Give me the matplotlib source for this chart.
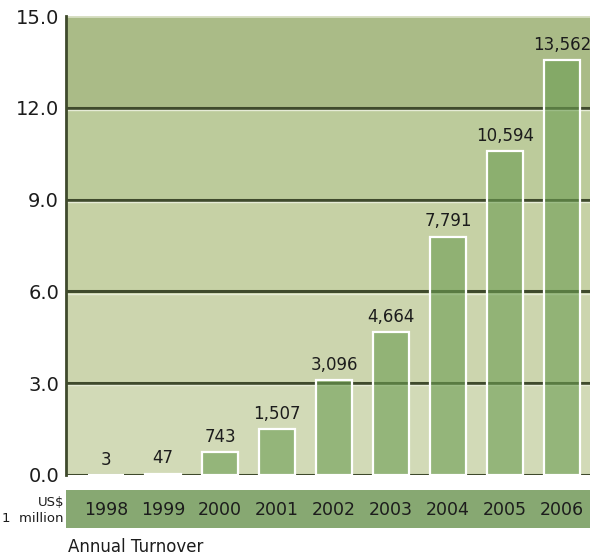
import numpy as np
import matplotlib.pyplot as plt

# annual turnover, US$ million
years = ['1998', '1999', '2000', '2001', '2002', '2003', '2004', '2005', '2006']
turnover = [3, 47, 743, 1507, 3096, 4664, 7791, 10594, 13562]
labels = ['3', '47', '743', '1,507', '3,096', '4,664', '7,791', '10,594', '13,562']
yticks = [0, 3, 6, 9, 12, 15]

# band colours from bottom to top
band_colors = ['#d2dab7', '#ccd5ae', '#c6d1a5', '#bccb9b', '#aabb87']

x = np.arange(len(years))
vals = np.array(turnover) / 1000.0

fig = plt.figure(figsize=(5.9, 5.57), dpi=100)
ax = fig.add_axes([66 / 590, 1 - 475 / 557, 524 / 590, 459 / 557])

for i, c in enumerate(band_colors):
    ax.axhspan(yticks[i], yticks[i + 1], color=c, zorder=0, lw=0)

# grid lines: dark line with a light highlight just under it
for t in yticks[:-1]:
    ax.axhline(t, color='#3f4a2c', lw=2.2, zorder=1)
    ax.axhline(t - 0.07, color='#e6ebd6', lw=1.0, zorder=1)
ax.axhline(15, color='#d8dfc4', lw=2, zorder=1)

ax.bar(x, vals, width=0.63, color='#6c9d52', alpha=0.6, edgecolor='none', zorder=2)
ax.bar(x, vals, width=0.63, color='none', edgecolor='white', lw=1.6, zorder=3)

for xi, v, lab in zip(x, vals, labels):
    ax.text(xi, v + 0.2, lab, ha='center', va='bottom', fontsize=12,
            family='DejaVu Sans', color='#1c1c1c', zorder=4)

ax.set_xlim(-0.70, 8.49)
ax.set_ylim(0, 15)
ax.set_xticks([])
ax.set_yticks(yticks)
ax.set_yticklabels(['%.1f' % t for t in yticks], fontsize=14, family='DejaVu Sans', color='#1c1c1c')
ax.tick_params(axis='y', length=0, pad=5)
for s in ['top', 'right', 'bottom']:
    ax.spines[s].set_visible(False)
ax.spines['left'].set_color('#3f4a2c')
ax.spines['left'].set_linewidth(2)
ax.spines['left'].set_zorder(5)

# year strip
strip = fig.add_axes([66 / 590, 1 - 528 / 557, 524 / 590, 38 / 557])
strip.set_facecolor('#87a872')
strip.set_xlim(-0.70, 8.49)
strip.set_ylim(0, 1)
strip.set_xticks([])
strip.set_yticks([])
for s in strip.spines.values():
    s.set_visible(False)
for xi, yr in zip(x, years):
    strip.text(xi, 0.47, yr, ha='center', va='center', fontsize=12.5,
               family='DejaVu Sans', color='#1c1c1c')

fig.text(64 / 590, 1 - 502 / 557, 'US$', ha='right', va='center', fontsize=9.5,
         family='DejaVu Sans', color='#1c1c1c')
fig.text(64 / 590, 1 - 519 / 557, '1  million', ha='right', va='center', fontsize=9.5,
         family='DejaVu Sans', color='#1c1c1c')
fig.text(68 / 590, 1 - 547 / 557, 'Annual Turnover', ha='left', va='center', fontsize=12,
         family='DejaVu Sans', color='#1c1c1c')

fig.savefig('out.png', dpi=100, facecolor='white')
